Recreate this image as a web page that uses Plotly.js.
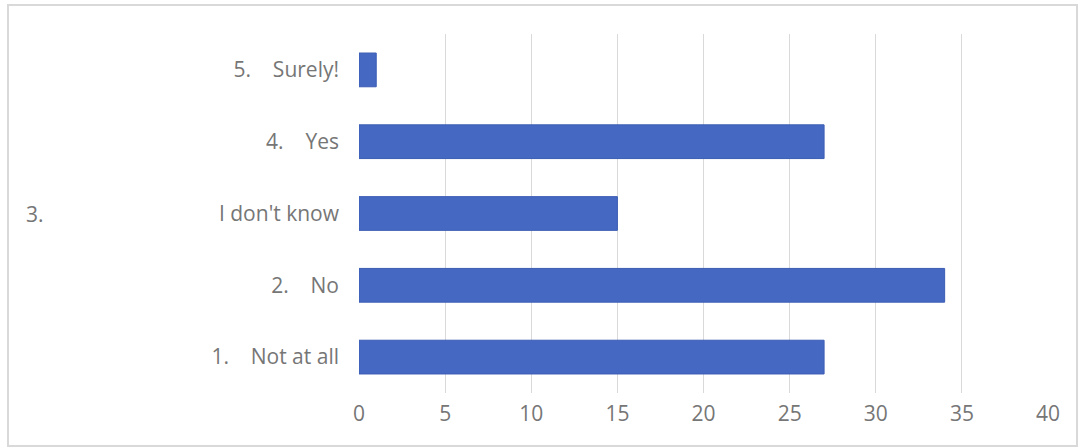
<!DOCTYPE html>
<html>
<head>
<meta charset="utf-8">
<script src="https://cdn.plot.ly/plotly-3.0.1.min.js"></script>
<style>
html,body{margin:0;padding:0;background:#fff;}
#chart{width:1083px;height:448px;}
</style>
</head>
<body>
<div id="chart"></div>
<script>
// Data
var categories = ["1. Not at all", "2. No", "3. I don't know", "4. Yes", "5. Surely!"];
var values = [27, 34, 15, 27, 1];
var tickLabels = [
  "1.\u00a0\u00a0\u00a0\u00a0Not at all",
  "2.\u00a0\u00a0\u00a0\u00a0No",
  "I don't know",
  "4.\u00a0\u00a0\u00a0\u00a0Yes",
  "5.\u00a0\u00a0\u00a0\u00a0Surely!"
];
var sideLabel = "3.";
var sideLabelCategory = "3. I don't know";
var xTicks = [0, 5, 10, 15, 20, 25, 30, 35, 40];

var fontFam = "Open Sans, Noto Sans, sans-serif";
var textColor = "#767676";
var fontSize = 21;

var trace = {
  type: "bar",
  orientation: "h",
  y: categories,
  x: values,
  width: 0.47,
  marker: {color: "#4569C3", line: {color: "#3b5cb3", width: 1}},
  hoverinfo: "x+y"
};

var layout = {
  width: 1083,
  height: 448,
  margin: {l: 359, r: 35, t: 34, b: 55},
  paper_bgcolor: "#ffffff",
  plot_bgcolor: "#ffffff",
  showlegend: false,
  font: {family: fontFam, size: fontSize, color: textColor},
  xaxis: {
    range: [0, 40],
    tickvals: xTicks,
    showgrid: true,
    gridcolor: "#d9d9d9",
    gridwidth: 1,
    zeroline: false,
    showline: false,
    ticks: "",
    ticklabelstandoff: 6,
    tickfont: {family: fontFam, size: fontSize, color: textColor},
    fixedrange: true
  },
  yaxis: {
    type: "category",
    categoryorder: "array",
    categoryarray: categories,
    tickvals: categories,
    ticktext: tickLabels,
    showgrid: false,
    zeroline: false,
    showline: false,
    ticks: "",
    ticklabelstandoff: 19,
    tickfont: {family: fontFam, size: fontSize, color: textColor},
    fixedrange: true
  },
  annotations: [{
    text: sideLabel,
    xref: "paper",
    yref: "y",
    x: (24 - 359) / 689,
    y: sideLabelCategory,
    xanchor: "left",
    yanchor: "middle",
    showarrow: false,
    font: {family: fontFam, size: fontSize, color: textColor}
  }],
  shapes: [{
    type: "rect",
    xref: "paper",
    yref: "paper",
    x0: (8 - 359) / 689,
    x1: (1077 - 359) / 689,
    y0: (393 - 446) / 359,
    y1: (393 - 5) / 359,
    line: {color: "#d9d9d9", width: 2},
    fillcolor: "rgba(0,0,0,0)",
    layer: "below"
  }]
};

Plotly.newPlot("chart", [trace], layout, {displayModeBar: false, staticPlot: true});
</script>
</body>
</html>
